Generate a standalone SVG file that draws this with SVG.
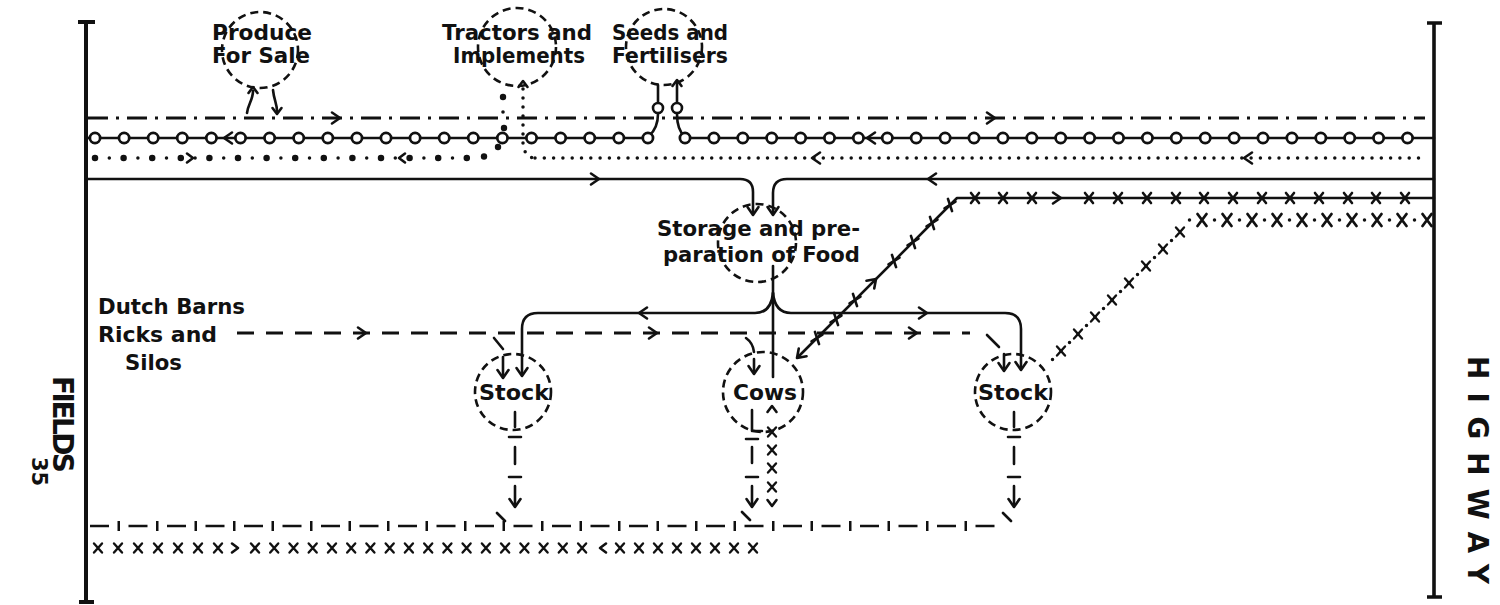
<svg xmlns="http://www.w3.org/2000/svg" width="1500" height="605" viewBox="0 0 1500 605">
<style>
.ln{fill:none;stroke:#111;stroke-width:2.6;stroke-linecap:round;stroke-linejoin:round}
.bd{fill:none;stroke:#111;stroke-width:3.6}
.dc{fill:none;stroke:#111;stroke-width:2.6;stroke-dasharray:8 5}
.dd{fill:none;stroke:#111;stroke-width:2.8;stroke-dasharray:20 8 3 8}
.dsh{fill:none;stroke:#111;stroke-width:2.8;stroke-dasharray:17 12}
.rb{fill:none;stroke:#111;stroke-width:13;stroke-linecap:round}
.rw{fill:none;stroke:#fff;stroke-width:7.5;stroke-linecap:round}
.dotb{fill:none;stroke:#111;stroke-width:6.5;stroke-linecap:round;stroke-dasharray:0 28.6}
.dots{fill:none;stroke:#111;stroke-width:3.5;stroke-linecap:round}
.tk{fill:none;stroke:#111;stroke-width:10;stroke-dasharray:2.5 36}
.dt{fill:none;stroke:#111;stroke-width:2.6;stroke-dasharray:19 19.5}
.ring{fill:#fff;stroke:#111;stroke-width:2.6}
.bdot{fill:#111}
text{font-family:"DejaVu Sans","Liberation Sans",Arial,sans-serif;font-weight:bold;fill:#111}
.lb{font-size:21px}
.side{font-size:28px}
</style>
<defs>
<path id="ah" class="ln" d="M-8,-5.5 L0,0 L-8,5.5"/>
<path id="ahs" class="ln" d="M-6,-4.5 L0,0 L-6,4.5"/>
<path id="xm" class="ln" d="M-4,-5 L4,5 M4,-5 L-4,5"/>
<path id="xs" class="ln" style="stroke-width:2.4" d="M-4,-4.5 L4,4.5 M4,-4.5 L-4,4.5"/>
<path id="xb" class="ln" style="stroke-width:2.8" d="M-4.5,-6 L4.5,6 M4.5,-6 L-4.5,6"/>
</defs>
<rect width="1500" height="605" fill="#fff"/>

<g id="fields-boundary">
<path class="bd" style="stroke-width:4" d="M86,22 V603 M78,22 H95 M79,602 H94"/>
<text class="side" transform="translate(53,376) rotate(90)" textLength="97" lengthAdjust="spacing">FIELDS</text>
<text class="lb" transform="translate(32,457) rotate(90)">35</text>
</g>
<g id="highway-boundary">
<path class="bd" d="M1434,23 V597 M1427,23 H1442 M1427,597 H1442"/>
<text class="side" transform="translate(1468,356) rotate(90)" textLength="228" lengthAdjust="spacing">HIGHWAY</text>
</g>

<g id="connectors">
<!-- dash-dot line -->
<path class="dd" d="M88,118 H1425"/>
<use href="#ah" transform="translate(340,118)"/>
<use href="#ah" transform="translate(995,118)"/>
<path class="ln" d="M247,113 C248,104 253,100 253,91"/>
<use href="#ahs" transform="translate(253,87) rotate(-90)"/>
<path class="ln" d="M273,90 C274,100 277,104 277,111"/>
<use href="#ahs" transform="translate(277,114) rotate(90)"/>

<!-- ring line -->
<path class="ln" d="M88,138 H648"/>
<path class="ln" d="M685,138 H1434"/>
<path class="ln" d="M658,85 V114 Q658,128 649,136"/>
<path class="ln" d="M677,82 V114 Q677,130 685,137"/>
<use href="#ahs" transform="translate(677,80) rotate(-90)"/>
<path class="rb" style="stroke-dasharray:0 29.1" d="M95,138 H648.5"/>
<path class="rw" style="stroke-dasharray:0 29.1" d="M95,138 H648.5"/>
<path class="rb" style="stroke-dasharray:0 28.9" d="M685,138 H1408"/>
<path class="rw" style="stroke-dasharray:0 28.9" d="M685,138 H1408"/>
<circle class="ring" cx="658" cy="108" r="5"/>
<circle class="ring" cx="677" cy="108" r="5"/>
<use href="#ah" transform="translate(224,138) rotate(180)"/>
<use href="#ah" transform="translate(867,138) rotate(180)"/>

<!-- dotted line -->
<path class="dotb" d="M95,158 H470"/>
<path class="dots" style="stroke-dasharray:0 28.6" d="M109.3,158 H470"/>
<circle class="bdot" cx="484" cy="156.5" r="3.2"/>
<circle class="bdot" cx="498" cy="147" r="3.2"/>
<circle class="bdot" cx="504" cy="128" r="3.2"/>
<circle class="bdot" cx="503" cy="112" r="1.8"/>
<circle class="bdot" cx="503" cy="97" r="3.2"/>
<use href="#ahs" transform="translate(193,158)"/>
<use href="#ahs" transform="translate(399,158) rotate(180)"/>
<path class="dots" style="stroke-dasharray:0 9.3" d="M535,158 H1427"/>
<path class="dots" style="stroke-dasharray:0 9" d="M523,89 V143 Q524,156 533,158"/>
<use href="#ahs" transform="translate(523,81) rotate(-90)"/>
<use href="#ah" transform="translate(812,158) rotate(180)"/>
<use href="#ah" transform="translate(1244,158) rotate(180)"/>

<!-- solid line to storage -->
<path class="ln" d="M88,179 H740 Q753,179 753,192 V212"/>
<use href="#ah" transform="translate(753,215) rotate(90)"/>
<path class="ln" d="M1434,179 H787 Q773,179 773,193 V212"/>
<use href="#ah" transform="translate(773,215) rotate(90)"/>
<use href="#ah" transform="translate(599,179)"/>
<use href="#ah" transform="translate(928,179) rotate(180)"/>

<!-- x line to cows -->
<path class="ln" d="M1434,198 H957 L799,356"/>
<use href="#ah" transform="translate(797,358) rotate(135)"/>
<use href="#ah" transform="translate(1061,198)"/>
<use href="#ah" transform="translate(876,279) rotate(-45)"/>
<use href="#xm" x="975" y="198"/><use href="#xm" x="1003" y="198"/><use href="#xm" x="1032" y="198"/>
<use href="#xm" x="1089" y="198"/><use href="#xm" x="1118" y="198"/><use href="#xm" x="1147" y="198"/>
<use href="#xm" x="1176" y="198"/><use href="#xm" x="1204" y="198"/><use href="#xm" x="1233" y="198"/>
<use href="#xm" x="1262" y="198"/><use href="#xm" x="1290" y="198"/><use href="#xm" x="1319" y="198"/>
<use href="#xm" x="1348" y="198"/><use href="#xm" x="1376" y="198"/><use href="#xm" x="1405" y="198"/>
<use href="#xm" transform="translate(950,205) rotate(20)"/>
<use href="#xm" transform="translate(932,223) rotate(20)"/>
<use href="#xm" transform="translate(913,242) rotate(20)"/>
<use href="#xm" transform="translate(894,261) rotate(20)"/>
<use href="#xm" transform="translate(855,300) rotate(20)"/>
<use href="#xm" transform="translate(836,319) rotate(20)"/>
<use href="#xm" transform="translate(817,338) rotate(20)"/>

<!-- x-dot line to right stock -->
<use href="#xb" x="1202" y="220"/><use href="#xb" x="1227" y="220"/><use href="#xb" x="1252" y="220"/>
<use href="#xb" x="1277" y="220"/><use href="#xb" x="1302" y="220"/><use href="#xb" x="1327" y="220"/>
<use href="#xb" x="1352" y="220"/><use href="#xb" x="1377" y="220"/><use href="#xb" x="1402" y="220"/>
<use href="#xb" x="1427" y="220"/>
<path class="dots" style="stroke-dasharray:0 25" d="M1189.5,220 H1415"/>
<use href="#xs" x="1180" y="232"/><use href="#xs" x="1163" y="249"/><use href="#xs" x="1146" y="266"/>
<use href="#xs" x="1129" y="283"/><use href="#xs" x="1112" y="300"/><use href="#xs" x="1095" y="317"/>
<use href="#xs" x="1078" y="334"/><use href="#xs" x="1061" y="351"/>
<path class="dots" style="stroke-dasharray:0 12.02" d="M1171.5,240.5 L1052.5,359.5"/>

<!-- storage to stock and cows -->
<path class="ln" d="M773,266 V377"/>
<path class="ln" d="M773,293 Q771,313 755,313 H538 Q522,313 522,329 V373"/>
<use href="#ah" transform="translate(522,376) rotate(90)"/>
<path class="ln" d="M773,293 Q775,313 791,313 H1005 Q1021,313 1021,329 V367"/>
<use href="#ah" transform="translate(1021,370) rotate(90)"/>
<use href="#ah" transform="translate(639,313) rotate(180)"/>
<use href="#ah" transform="translate(927,313)"/>

<!-- dashed line from barns -->
<path class="dsh" d="M237,333 H970"/>
<use href="#ah" transform="translate(366,333)"/>
<use href="#ah" transform="translate(657,333)"/>
<use href="#ah" transform="translate(917,333)"/>
<path class="ln" d="M494,338 L503,349 M503,357 V375"/>
<use href="#ah" transform="translate(503,378) rotate(90)"/>
<path class="ln" d="M746,338 Q753,343 754,352 M754,359 V371"/>
<use href="#ah" transform="translate(754,374) rotate(90)"/>
<path class="ln" d="M987,335 L999,347 M1004,354 V368"/>
<use href="#ah" transform="translate(1004,371) rotate(90)"/>

<!-- down to bottom lines -->
<path class="ln" d="M515,412 V427 M509,437 H521 M515,447 V464 M509,477 H521 M515,486 V504"/>
<use href="#ah" transform="translate(515,507) rotate(90)"/>
<path class="ln" d="M752,410 V431 H762 M746,439 H758 M752,447 V463 M746,477 H758 M752,486 V504"/>
<use href="#ah" transform="translate(752,507) rotate(90)"/>
<path class="ln" d="M1014,412 V427 M1008,437 H1020 M1014,447 V464 M1008,477 H1020 M1014,486 V504"/>
<use href="#ah" transform="translate(1014,507) rotate(90)"/>
<use href="#ahs" transform="translate(772,406) rotate(-90)"/>
<use href="#xs" x="772" y="432"/><use href="#xs" x="772" y="450"/><use href="#xs" x="772" y="468"/><use href="#xs" x="772" y="487"/>
<use href="#ahs" transform="translate(772,506) rotate(90)"/>

<!-- bottom dash-tick line -->
<path class="dt" d="M90,526 H995"/>
<path class="tk" d="M117.5,526 H1000"/>
<path class="ln" d="M497,513 L505,521 M742,512 L750,520 M1003,513 L1011,521"/>

<!-- bottom x line -->
<use href="#xs" x="98" y="548"/><use href="#xs" x="118" y="548"/><use href="#xs" x="138" y="548"/>
<use href="#xs" x="158" y="548"/><use href="#xs" x="178" y="548"/><use href="#xs" x="198" y="548"/>
<use href="#xs" x="218" y="548"/>
<use href="#ahs" transform="translate(238,548)"/>
<use href="#xs" x="255" y="548"/><use href="#xs" x="274.2" y="548"/><use href="#xs" x="293.5" y="548"/>
<use href="#xs" x="312.7" y="548"/><use href="#xs" x="332" y="548"/><use href="#xs" x="351.2" y="548"/>
<use href="#xs" x="370.4" y="548"/><use href="#xs" x="389.7" y="548"/><use href="#xs" x="408.9" y="548"/>
<use href="#xs" x="428.2" y="548"/><use href="#xs" x="447.4" y="548"/><use href="#xs" x="466.6" y="548"/>
<use href="#xs" x="485.9" y="548"/><use href="#xs" x="505.1" y="548"/><use href="#xs" x="524.4" y="548"/>
<use href="#xs" x="543.6" y="548"/><use href="#xs" x="562.8" y="548"/><use href="#xs" x="582.1" y="548"/>
<use href="#ahs" transform="translate(600,548) rotate(180)"/>
<use href="#xs" x="620" y="548"/><use href="#xs" x="639" y="548"/><use href="#xs" x="658" y="548"/>
<use href="#xs" x="677" y="548"/><use href="#xs" x="696" y="548"/><use href="#xs" x="715" y="548"/>
<use href="#xs" x="734" y="548"/><use href="#xs" x="753" y="548"/>
</g>

<g id="node-produce">
<circle class="dc" cx="260" cy="50" r="38"/>
<text class="lb" x="212" y="40" textLength="100" lengthAdjust="spacingAndGlyphs">Produce</text>
<text class="lb" x="212" y="63" textLength="98" lengthAdjust="spacingAndGlyphs">For Sale</text>
</g>
<g id="node-tractors">
<circle class="dc" cx="517" cy="47" r="39"/>
<text class="lb" x="442" y="40" textLength="150" lengthAdjust="spacingAndGlyphs">Tractors and</text>
<text class="lb" x="453" y="63" textLength="132" lengthAdjust="spacingAndGlyphs">Implements</text>
</g>
<g id="node-seeds">
<circle class="dc" cx="664" cy="47" r="38"/>
<text class="lb" x="612" y="40" textLength="116" lengthAdjust="spacingAndGlyphs">Seeds and</text>
<text class="lb" x="612" y="63" textLength="116" lengthAdjust="spacingAndGlyphs">Fertilisers</text>
</g>
<g id="node-storage">
<circle class="dc" cx="757" cy="243" r="39"/>
<text class="lb" x="657" y="236" textLength="203" lengthAdjust="spacingAndGlyphs">Storage and pre-</text>
<text class="lb" x="663" y="262" textLength="197" lengthAdjust="spacingAndGlyphs">paration of Food</text>
</g>
<g id="node-barns">
<text class="lb" x="98" y="314" textLength="147" lengthAdjust="spacingAndGlyphs">Dutch Barns</text>
<text class="lb" x="98" y="342" textLength="119" lengthAdjust="spacingAndGlyphs">Ricks and</text>
<text class="lb" x="125" y="370" textLength="57" lengthAdjust="spacingAndGlyphs">Silos</text>
</g>
<g id="node-stock-left">
<circle class="dc" cx="513" cy="392" r="38"/>
<text class="lb" x="479" y="400" textLength="70" lengthAdjust="spacingAndGlyphs">Stock</text>
</g>
<g id="node-cows">
<circle class="dc" cx="763" cy="392" r="40"/>
<text class="lb" x="733" y="400" textLength="64" lengthAdjust="spacingAndGlyphs">Cows</text>
</g>
<g id="node-stock-right">
<circle class="dc" cx="1013" cy="392" r="38"/>
<text class="lb" x="978" y="400" textLength="70" lengthAdjust="spacingAndGlyphs">Stock</text>
</g>
</svg>
